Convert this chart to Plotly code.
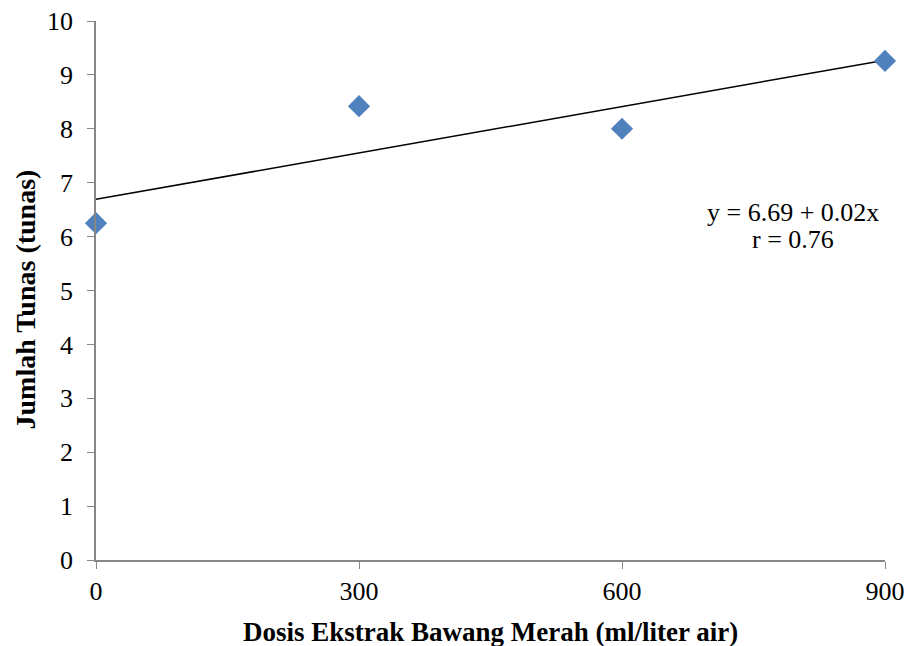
import numpy as np
import plotly.graph_objects as go

dosis = [0, 300, 600, 900]
tunas = [6.25, 8.42, 8.0, 9.26]
x_ticks = [0, 300, 600, 900]
y_ticks = list(range(0, 11))
eq_line1 = "y = 6.69 + 0.02x"
eq_line2 = "r = 0.76"
x_title = "<b>Dosis Ekstrak Bawang Merah (ml/liter air)</b>"
y_title = "<b>Jumlah Tunas (tunas)</b>"

slope, intercept = np.polyfit(dosis, tunas, 1)
trend_x = [min(dosis), max(dosis)]
trend_y = [intercept + slope * v for v in trend_x]

font_family = "Liberation Serif, Times New Roman, serif"
axis_color = "#868686"

fig = go.Figure()
fig.add_trace(go.Scatter(x=trend_x, y=trend_y, mode="lines",
                         line=dict(color="black", width=1.5),
                         showlegend=False, hoverinfo="skip", cliponaxis=False))
fig.add_trace(go.Scatter(x=dosis, y=tunas, mode="markers",
                         marker=dict(symbol="diamond", size=17, color="#4F81BD",
                                     line=dict(width=0)),
                         showlegend=False, cliponaxis=False))

fig.add_annotation(x=795, y=6.44, xref="x", yref="y", text=eq_line1,
                   showarrow=False, xanchor="center", yanchor="middle",
                   font=dict(family=font_family, size=26, color="black"))
fig.add_annotation(x=795, y=5.94, xref="x", yref="y", text=eq_line2,
                   showarrow=False, xanchor="center", yanchor="middle",
                   font=dict(family=font_family, size=26, color="black"))

fig.add_annotation(x=0.5, y=0, xref="paper", yref="paper", text=x_title,
                   showarrow=False, xanchor="center", yanchor="middle", yshift=-72,
                   font=dict(family=font_family, size=27, color="black"))
fig.add_annotation(x=0, y=0.5, xref="paper", yref="paper", text=y_title,
                   showarrow=False, xanchor="center", yanchor="middle",
                   xshift=-71, yshift=-9, textangle=-90,
                   font=dict(family=font_family, size=28, color="black"))

fig.update_layout(
    width=909, height=646,
    margin=dict(l=96, r=24, t=21, b=86),
    paper_bgcolor="white", plot_bgcolor="white",
    font=dict(family=font_family, size=26, color="black"),
)
fig.update_xaxes(range=[0, 900], tickvals=x_ticks, ticks="outside", ticklen=7,
                 tickcolor=axis_color, showline=True, linecolor=axis_color, linewidth=1.5,
                 showgrid=False, zeroline=False, automargin=False,
                 tickfont=dict(family=font_family, size=26))
fig.update_yaxes(range=[0, 10], tickvals=y_ticks, ticks="outside", ticklen=7,
                 tickcolor=axis_color, showline=True, linecolor=axis_color, linewidth=1.5,
                 showgrid=False, zeroline=False, automargin=False,
                 ticklabelstandoff=9,
                 tickfont=dict(family=font_family, size=26))

fig.write_html("out.html")
